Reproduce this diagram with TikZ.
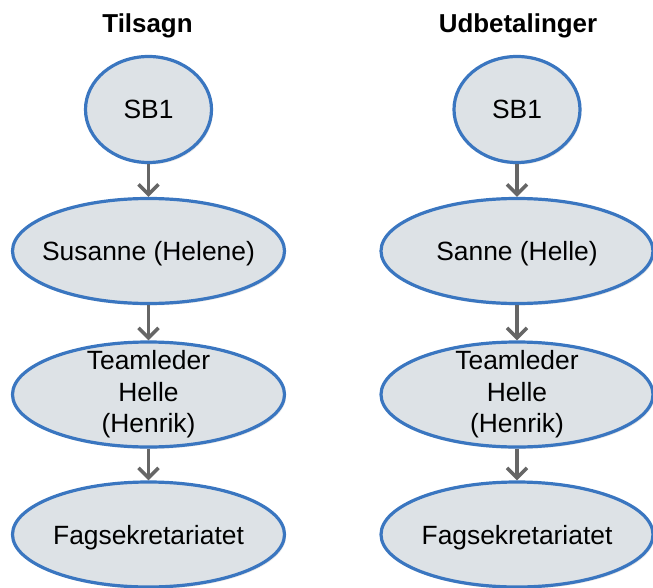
\documentclass[tikz,border=0pt]{standalone}
\usepackage{fontspec}
\setmainfont{Liberation Sans}
\usetikzlibrary{shapes.geometric,arrows.meta,shadows}

\definecolor{roleFill}{HTML}{DDE2E6}
\definecolor{roleEdge}{HTML}{3A76C0}
\definecolor{flowGray}{HTML}{666666}

\tikzset{
  role/.style={ellipse, draw=roleEdge, fill=roleFill, line width=3.2bp,
    inner xsep=-45bp, inner ysep=-24bp,
    minimum width=272bp, minimum height=105bp,
    font=\fontsize{26.5}{31.5}\selectfont, align=center,
    drop shadow={opacity=0.18, shadow xshift=1.5bp, shadow yshift=-2bp}},
  oneline/.style={text height=19bp, text depth=0pt},
  start/.style={role, oneline, minimum width=126bp, minimum height=106bp},
  coltitle/.style={font=\fontsize{26}{30}\selectfont\bfseries, anchor=base},
  flow/.style={draw=flowGray, line width=3.5bp,
    -{Straight Barb[length=10bp,width=20bp]}}
}

\begin{document}
\begin{tikzpicture}[x=1bp, y=-1bp]
  \useasboundingbox (0,0) rectangle (653,588);

  % column headings
  \node[coltitle] (tTil) at (147.5,33) {Tilsagn};
  \node[coltitle] (tUdb) at (518,33) {Udbetalinger};

  % left chain
  \node[start] (a1) at (148.5,109.5) {SB1};
  \node[role, oneline] (a2) at (148.5,251) {Susanne (Helene)};
  \node[role] (a3) at (148.5,394.5) {Teamleder\\Helle\\(Henrik)};
  \node[role, oneline] (a4) at (148.5,534.5) {Fagsekretariatet};

  % right chain
  \node[start] (b1) at (517,109.5) {SB1};
  \node[role, oneline] (b2) at (517,251) {Sanne (Helle)};
  \node[role] (b3) at (517,394.5) {Teamleder\\Helle\\(Henrik)};
  \node[role, oneline] (b4) at (517,534.5) {Fagsekretariatet};

  % arrows
  \draw[flow] (a1) -- (a2);
  \draw[flow] (a2) -- (a3);
  \draw[flow] (a3) -- (a4);
  \draw[flow] (b1) -- (b2);
  \draw[flow] (b2) -- (b3);
  \draw[flow] (b3) -- (b4);
\end{tikzpicture}
\end{document}
